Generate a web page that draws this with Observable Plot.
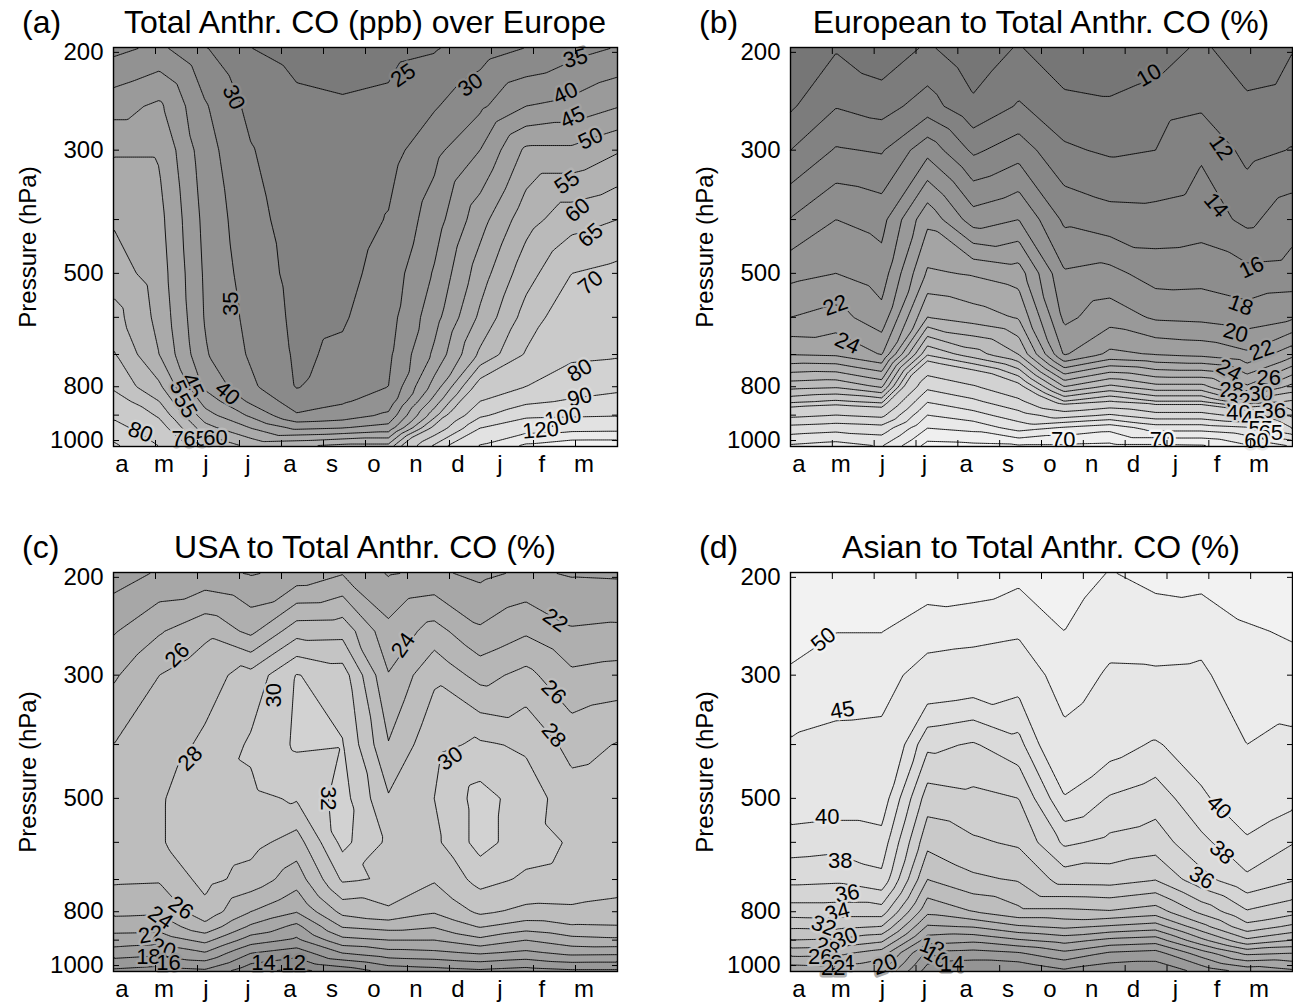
<!DOCTYPE html>
<html>
<head>
<meta charset="utf-8">
<script src="https://cdn.jsdelivr.net/npm/d3@7"></script>
<script src="https://cdn.jsdelivr.net/npm/@observablehq/plot@0.6"></script>
<style>
  html, body { margin: 0; padding: 0; background: #fff; }
  #wrap { position: relative; width: 1293px; height: 1008px; overflow: hidden; font-family: "Liberation Sans", Arial, sans-serif; }
  .panel { position: absolute; }
  .tag { position: absolute; font-size: 32px; line-height: 36px; color: #000; }
  .title { position: absolute; font-size: 32px; line-height: 36px; color: #000; text-align: center; white-space: nowrap; }
</style>
</head>
<body>
<div id="wrap"></div>
<script>
// ---------- axes ----------
const months = ["a", "m", "j", "j", "a", "s", "o", "n", "d", "j", "f", "m"];
// model levels (hPa), bottom of the column to its top
const levels = [1025, 950, 900, 850, 800, 700, 600, 500, 400, 300, 250, 196];
const pressureTicks = [200, 300, 400, 500, 600, 700, 800, 900, 1000];
const pressureLabels = [200, 300, 500, 800, 1000];

// ---------- (a) Total anthropogenic CO (ppb); one row per month, values at `levels` ----------
const totalCO = [
  [92, 84, 78, 73, 69, 65.5, 62, 57.5, 54.5, 49.5, 43, 33.5],
  [80, 73, 69, 65, 61, 55, 53.5, 52.5, 51.5, 49.5, 46, 36],
  [65, 57, 52, 48, 44, 40.5, 39.6, 39.2, 38.5, 37, 35.5, 30.3],
  [59, 50, 44, 39, 36, 34.3, 33.5, 32.5, 31.5, 30.3, 28.5, 25],
  [60, 44, 35.5, 32.5, 29.7, 29.3, 28.9, 28.5, 28, 27, 26, 23.5],
  [62, 45, 37, 34.5, 33, 30.8, 29.5, 28.5, 27.5, 26.5, 25.5, 23],
  [62, 47, 41, 37, 35, 34, 33, 32, 30.3, 28, 26, 23.5],
  [92, 72, 63, 57, 52, 46, 43, 40.5, 37.5, 33.5, 29.5, 24.5],
  [122, 100, 88, 80, 73, 61, 56, 52.5, 48, 40, 34, 27.5],
  [145, 110, 97, 88, 80, 70.5, 67, 63, 58, 51, 40, 30],
  [155, 112, 98, 91, 86, 78, 74, 70, 63, 51, 41.5, 33],
  [155, 113, 99, 93, 88, 79, 75, 71.5, 65, 54.5, 44.7, 35.2]
];
// ---------- (b) European share (%) ----------
const europeanPct = [
  [61, 51.9, 43.6, 37.4, 33.3, 25.9, 22, 19.4, 16.1, 12, 9.7, 7.5],
  [62.5, 53, 45, 38.3, 33.7, 25.7, 22.8, 20, 18, 14.2, 11.9, 9.8],
  [60, 52, 43.6, 37.3, 31.7, 23.9, 20.7, 18.9, 17.3, 13.8, 11.2, 8.5],
  [72, 65, 60, 54.6, 48.8, 37.8, 30, 26.3, 23.5, 17.3, 12.9, 10.3],
  [71.5, 63.5, 57, 51, 45.5, 35, 29, 25.8, 19, 13.6, 10.4, 8.5],
  [71, 58, 52, 46, 41, 32, 27.8, 25, 20, 15.1, 12.2, 10.2],
  [71, 61, 47.5, 38, 32, 21.8, 19.5, 18.2, 15.6, 12.3, 10.8, 8],
  [71.5, 63.5, 50.5, 40, 34.5, 24.5, 21.1, 18.6, 14.8, 11.7, 10.4, 8],
  [71.5, 58, 46.7, 38, 32.7, 23.9, 19.7, 17.1, 14.7, 12, 11.2, 8.5],
  [71, 58, 46.7, 38, 32.7, 23.5, 19.5, 17.2, 15.1, 13.7, 11.7, 10.5],
  [66, 56, 43, 34.4, 28.3, 22.4, 18.9, 16.6, 13.5, 11.4, 10.6, 8.3],
  [60, 45, 39, 36.2, 32.7, 25.4, 19.7, 16.8, 15.2, 12.1, 11, 9.9]
];
// ---------- (c) USA share (%) ----------
const usaPct = [
  [15.5, 19, 21.1, 22.9, 24.5, 26.3, 27.3, 27, 26, 23.7, 21.8, 19],
  [15, 18.5, 20.8, 22.8, 24.3, 26.2, 27.8, 27.8, 27.2, 26, 23.8, 20.2],
  [15.5, 19.8, 22.6, 25.4, 27.3, 28.7, 29.3, 29.2, 28.3, 27.3, 25.5, 20.5],
  [12.5, 16, 19, 21.7, 24, 27.2, 28.7, 29.6, 30.3, 28.7, 23.5, 19.8],
  [11.3, 14.9, 17.6, 19.5, 22.1, 24.9, 27.1, 30.2, 32.3, 32.1, 27.2, 20.5],
  [12.6, 18, 21.4, 24.2, 26.6, 30.3, 32.6, 32.8, 32.1, 31, 27.3, 21.8],
  [14.5, 19.2, 22, 24.8, 27.6, 29.8, 29.6, 28.2, 26.1, 24.1, 22.6, 19.8],
  [15, 19.5, 22, 24.2, 26.2, 28.2, 29.5, 30, 29.5, 27.6, 24.8, 20.3],
  [15.5, 20.2, 23.5, 26.2, 28.4, 30.7, 32.8, 32.8, 30.3, 25.3, 22.3, 19.5],
  [15, 19.5, 22, 25, 27.5, 29.7, 30.8, 31, 29.7, 26.6, 23.7, 20.3],
  [15.5, 20.5, 23.3, 25.8, 27.6, 29.4, 29.8, 28.9, 27.3, 24.4, 22.2, 19.8],
  [15.5, 20.4, 23.6, 25.9, 27.3, 28.9, 29.3, 29.2, 28.1, 24.8, 22.4, 19.7]
];
// ---------- (d) Asian share (%) ----------
const asianPct = [
  [20.5, 24.7, 28, 30.4, 33, 36.6, 39, 41.5, 44.5, 49.5, 51.5, 54],
  [20.8, 24.5, 27.8, 30.6, 33, 36.4, 38.7, 41.3, 43.8, 47.3, 50.1, 53.5],
  [20, 23, 26.5, 30, 33, 37.5, 39.2, 41.3, 43.5, 47.2, 50.1, 53.5],
  [13, 15.5, 19, 21.8, 24.5, 28, 30.6, 33, 36.5, 42.5, 47.5, 53],
  [12, 15.2, 18.5, 22.2, 26, 29.6, 31.7, 33.5, 35.8, 42, 46.7, 53.5],
  [12, 15.8, 19.8, 23.8, 27.5, 30.2, 32.3, 34, 37.3, 41.2, 45.8, 51.5],
  [13.5, 17.5, 20.8, 24.5, 27.5, 32.8, 36.4, 39.8, 43.3, 47.7, 50, 52.5],
  [12.5, 15.7, 19.5, 23.8, 27.8, 32.9, 35.5, 37.8, 41, 44.3, 46.8, 49.8],
  [12.5, 15.2, 19, 23.1, 27, 32.1, 35, 36.9, 39.7, 44.4, 47.3, 51.5],
  [14.5, 19, 23.5, 27.3, 30.5, 35.3, 37.5, 39.5, 41.6, 44.2, 46.5, 52],
  [16.5, 22.5, 27.6, 31.4, 33.8, 37.6, 39.6, 42, 45, 47.8, 49.5, 53],
  [17.5, 22, 26, 29.6, 32.7, 36.2, 38.1, 40.7, 43.8, 48.5, 50.5, 54]
];

// ---------- contour levels ----------
const levelsA = [0, 25, 30, 35, 40, 45, 50, 55, 60, 65, 70, 80, 90, 100, 120, 140];
const levelsB = [0, 10, 12, 14, 16, 18, 20, 22, 24, 26, 28, 30, 32, 34, 36, 38, 40, 45, 50, 55, 60, 65, 70];
const levelsC = [0, 12, 14, 16, 18, 20, 22, 24, 26, 28, 30, 32];
const levelsD = [0, 12, 14, 16, 18, 20, 22, 24, 26, 28, 30, 32, 34, 36, 38, 40, 45, 50];

// ---------- contour labels (month position, pressure, value, angle) ----------
const labelsA = [
  {x: 2.86, p: 241, v: 30, r: 65}, {x: 6.9, p: 220, v: 25, r: -35}, {x: 8.5, p: 229, v: 30, r: -35},
  {x: 11.0, p: 205, v: 35, r: -15}, {x: 10.76, p: 237, v: 40, r: -25}, {x: 10.93, p: 262, v: 45, r: -25},
  {x: 11.36, p: 286, v: 50, r: -25}, {x: 10.8, p: 343, v: 55, r: -35}, {x: 11.05, p: 385, v: 60, r: -40},
  {x: 11.36, p: 427, v: 65, r: -40}, {x: 11.36, p: 520, v: 70, r: -40}, {x: 11.1, p: 748, v: 80, r: -30},
  {x: 11.1, p: 836, v: 90, r: -15}, {x: 10.7, p: 910, v: 100, r: -10}, {x: 10.17, p: 958, v: 120, r: -5},
  {x: 2.79, p: 567, v: 35, r: -90}, {x: 2.71, p: 822, v: 40, r: 40}, {x: 1.88, p: 796, v: 45, r: 65},
  {x: 1.6, p: 820, v: 50, r: 65}, {x: 1.71, p: 866, v: 55, r: 60}, {x: 0.64, p: 966, v: 80, r: 20},
  {x: 1.67, p: 992, v: 70, r: 0}, {x: 1.95, p: 992, v: 65, r: 0}, {x: 2.43, p: 990, v: 60, r: 0}
];
const labelsB = [
  {x: 8.57, p: 220, v: 10, r: -30}, {x: 10.29, p: 297, v: 12, r: 55}, {x: 10.17, p: 377, v: 14, r: 50},
  {x: 11.02, p: 488, v: 16, r: -25}, {x: 10.76, p: 571, v: 18, r: 20}, {x: 10.64, p: 640, v: 20, r: 15},
  {x: 11.26, p: 688, v: 22, r: -20}, {x: 10.48, p: 748, v: 24, r: 30}, {x: 11.43, p: 770, v: 26, r: 0},
  {x: 10.55, p: 812, v: 28, r: 0}, {x: 11.24, p: 823, v: 30, r: 0}, {x: 10.71, p: 847, v: 32, r: 0},
  {x: 11.55, p: 884, v: 36, r: 0}, {x: 10.71, p: 891, v: 40, r: 0}, {x: 11.07, p: 913, v: 45, r: 0},
  {x: 11.24, p: 952, v: 55, r: 0}, {x: 11.48, p: 971, v: 65, r: 0}, {x: 11.14, p: 1003, v: 60, r: 0},
  {x: 1.07, p: 571, v: 22, r: -20}, {x: 1.36, p: 668, v: 24, r: 25},
  {x: 6.52, p: 996, v: 70, r: 0}, {x: 8.88, p: 996, v: 70, r: 0}
];
const labelsC = [
  {x: 1.52, p: 276, v: 26, r: -45}, {x: 6.9, p: 265, v: 24, r: -55}, {x: 10.52, p: 239, v: 22, r: 35},
  {x: 10.48, p: 322, v: 26, r: 45}, {x: 10.48, p: 385, v: 28, r: 50}, {x: 3.81, p: 326, v: 30, r: -90},
  {x: 1.83, p: 424, v: 28, r: -45}, {x: 8.02, p: 424, v: 30, r: -35}, {x: 5.12, p: 500, v: 32, r: 90},
  {x: 1.6, p: 788, v: 26, r: 35}, {x: 1.12, p: 820, v: 24, r: 35}, {x: 0.88, p: 880, v: 22, r: -10},
  {x: 1.19, p: 932, v: 20, r: 20}, {x: 0.83, p: 966, v: 18, r: 0}, {x: 1.31, p: 989, v: 16, r: 0},
  {x: 3.57, p: 989, v: 14, r: 0}, {x: 4.29, p: 989, v: 12, r: 0}
];
const labelsD = [
  {x: 0.79, p: 259, v: 50, r: -40}, {x: 1.24, p: 347, v: 45, r: -10}, {x: 0.88, p: 540, v: 40, r: 0},
  {x: 1.19, p: 648, v: 38, r: 0}, {x: 1.36, p: 742, v: 36, r: -10}, {x: 1.12, p: 802, v: 34, r: -15},
  {x: 0.79, p: 848, v: 32, r: 20}, {x: 1.31, p: 893, v: 30, r: -20}, {x: 0.88, p: 928, v: 28, r: 20},
  {x: 0.71, p: 965, v: 26, r: 0}, {x: 1.24, p: 989, v: 24, r: 0}, {x: 1.02, p: 1008, v: 22, r: 0},
  {x: 2.26, p: 996, v: 20, r: -20}, {x: 3.38, p: 928, v: 18, r: 20}, {x: 3.48, p: 965, v: 16, r: 30},
  {x: 3.86, p: 992, v: 14, r: 0}, {x: 10.24, p: 519, v: 40, r: 45}, {x: 10.31, p: 626, v: 38, r: 40},
  {x: 9.83, p: 695, v: 36, r: 30}
];

const titles = [
  "Total Anthr. CO (ppb) over Europe",
  "European to Total Anthr. CO (%)",
  "USA to Total Anthr. CO (%)",
  "Asian to Total Anthr. CO (%)"
];
const tags = ["(a)", "(b)", "(c)", "(d)"];

function makePanel({values, thresholds, dark, light, labels, width, marginRight}) {
  const grid = [];
  values.forEach((col, i) => col.forEach((v, j) => grid.push({x: i * 12 / 11, p: levels[j], v})));
  const ramp = d3.interpolateRgb(dark, light);
  const range = thresholds.map((t, i) => ramp(i / (thresholds.length - 1)));
  return Plot.plot({
    width, height: 483,
    marginLeft: 113, marginRight, marginTop: 47, marginBottom: 37,
    style: {fontFamily: '"Liberation Sans", Arial, sans-serif', background: "transparent", overflow: "visible"},
    x: {domain: [0, 12]},
    y: {type: "log", domain: [1025, 196]},
    color: {type: "ordinal", domain: thresholds, range},
    marks: [
      Plot.contour(grid, {x: "x", y: "p", fill: "v", thresholds, interpolate: "barycentric",
        stroke: "black", strokeWidth: 0.9}),
      Plot.text(labels, {x: "x", y: "p", text: (d) => String(d.v), rotate: "r", fontSize: 22,
        fill: "black", stroke: "v", strokeWidth: 5, paintOrder: "stroke"}),
      Plot.axisX({anchor: "bottom", ticks: d3.range(1, 12), tickSize: -6, tickFormat: () => "", label: null}),
      Plot.axisX({anchor: "top", ticks: d3.range(1, 12), tickSize: -6, tickFormat: () => "", label: null}),
      Plot.axisX({anchor: "bottom", ticks: months.map((m, i) => i + 0.2), tickSize: 0, tickPadding: 8,
        tickFormat: (d) => months[Math.round(d - 0.2)], fontSize: 24, label: null}),
      Plot.axisY({anchor: "left", ticks: pressureTicks, tickSize: -6, tickFormat: () => "", label: null}),
      Plot.axisY({anchor: "right", ticks: pressureTicks, tickSize: -6, tickFormat: () => "", label: null}),
      Plot.axisY({anchor: "left", ticks: pressureLabels, tickSize: 0, tickPadding: 10,
        tickFormat: (d) => String(d), fontSize: 24, label: null}),
      Plot.text(["Pressure (hPa)"], {text: (d) => d, frameAnchor: "left", textAnchor: "middle",
        dx: -85, rotate: -90, fontSize: 24}),
      Plot.frame({stroke: "black", strokeWidth: 1.4})
    ]
  });
}

const wrap = document.getElementById("wrap");
const specs = [
  {values: totalCO, thresholds: levelsA, dark: "#7a7a7a", light: "#f2f2f2", labels: labelsA, left: 0, top: 0, width: 630, marginRight: 13},
  {values: europeanPct, thresholds: levelsB, dark: "#767676", light: "#f5f5f5", labels: labelsB, left: 677, top: 0, width: 616, marginRight: 1},
  {values: usaPct, thresholds: levelsC, dark: "#848484", light: "#d2d2d2", labels: labelsC, left: 0, top: 525, width: 630, marginRight: 13},
  {values: asianPct, thresholds: levelsD, dark: "#8e8e8e", light: "#f2f2f2", labels: labelsD, left: 677, top: 525, width: 616, marginRight: 1}
];
specs.forEach((s, k) => {
  const div = document.createElement("div");
  div.className = "panel";
  div.style.left = s.left + "px";
  div.style.top = s.top + "px";
  div.appendChild(makePanel(s));
  wrap.appendChild(div);
  const tag = document.createElement("div");
  tag.className = "tag";
  tag.textContent = tags[k];
  tag.style.left = (s.left + 22) + "px";
  tag.style.top = (s.top + 4) + "px";
  wrap.appendChild(tag);
  const t = document.createElement("div");
  t.className = "title";
  t.textContent = titles[k];
  const frameLeft = s.left + 113, frameRight = s.left + s.width - s.marginRight;
  t.style.left = frameLeft + "px";
  t.style.width = (frameRight - frameLeft) + "px";
  t.style.top = (s.top + 4) + "px";
  wrap.appendChild(t);
});
</script>
</body>
</html>
